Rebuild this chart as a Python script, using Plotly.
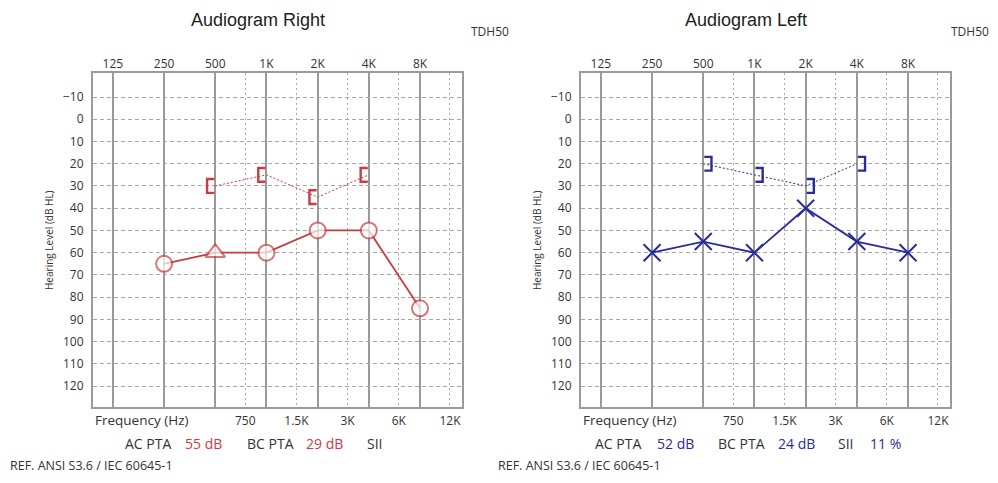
import math
import plotly.graph_objects as go

# axis ticks
OCT_FREQS = [125, 250, 500, 1000, 2000, 4000, 8000]
OCT_LABELS = ["125", "250", "500", "1K", "2K", "4K", "8K"]
MID_FREQS = [750, 1500, 3000, 6000, 12000]
MID_LABELS = ["750", "1.5K", "3K", "6K", "12K"]
DB_TICKS = list(range(-10, 121, 10))

# right ear
right_ac_freq = [250, 500, 1000, 2000, 4000, 8000]
right_ac_db = [65, 60, 60, 50, 50, 85]
right_ac_masked = [False, True, False, False, False, False]
right_bc_freq = [500, 1000, 2000, 4000]
right_bc_db = [30, 25, 35, 25]
right_summary = ["55 dB", "29 dB", ""]

# left ear
left_ac_freq = [250, 500, 1000, 2000, 4000, 8000]
left_ac_db = [60, 55, 60, 40, 55, 60]
left_bc_freq = [500, 1000, 2000, 4000]
left_bc_db = [20, 25, 30, 20]
left_summary = ["52 dB", "24 dB", "11 %"]

RED = "#cc3b3f"
BLUE = "#2b2b9c"
GRID = "#a8a8a8"
TXT = "#333333"
FONT = "Open Sans"

W, H = 998, 483
PAGE = 8  # body margin of the html page
X_RANGE = [math.log10(95.5), math.log10(14120)]
Y_RANGE = [129.4, -20.8]


def px(x):
    return (x - PAGE) / W


def py(y):
    return 1 - (y - PAGE) / H


def bracket(freqs, dbs, side):
    # side -1 -> "[" drawn left of the frequency line, +1 -> "]" to the right
    xs, ys = [], []
    for f, d in zip(freqs, dbs):
        near = f * 2 ** (side * 0.02)
        far = f * 2 ** (side * 0.16)
        xs += [near, far, far, near, None]
        ys += [d - 3.1, d - 3.1, d + 3.1, d + 3.1, None]
    return xs, ys


fig = go.Figure()

# ---- right ear (red) ----
fig.add_trace(go.Scatter(
    x=right_bc_freq, y=right_bc_db, mode="lines",
    line=dict(color=RED, width=1, dash="2px,2px"), xaxis="x", yaxis="y"))
bx, by = bracket(right_bc_freq, right_bc_db, -1)
fig.add_trace(go.Scatter(
    x=bx, y=by, mode="lines", line=dict(color=RED, width=2.4),
    xaxis="x", yaxis="y"))
fig.add_trace(go.Scatter(
    x=right_ac_freq, y=right_ac_db, mode="lines+markers",
    line=dict(color=RED, width=1.8),
    marker=dict(symbol=["triangle-up" if m else "circle" for m in right_ac_masked],
                size=[17 if m else 16 for m in right_ac_masked],
                color="white", line=dict(color=RED, width=2)),
    xaxis="x3", yaxis="y"))

# ---- left ear (blue) ----
fig.add_trace(go.Scatter(
    x=left_bc_freq, y=left_bc_db, mode="lines",
    line=dict(color=BLUE, width=1, dash="2px,2px"), xaxis="x2", yaxis="y2"))
bx, by = bracket(left_bc_freq, left_bc_db, 1)
fig.add_trace(go.Scatter(
    x=bx, y=by, mode="lines", line=dict(color=BLUE, width=2.4),
    xaxis="x2", yaxis="y2"))
fig.add_trace(go.Scatter(
    x=left_ac_freq, y=left_ac_db, mode="lines+markers",
    line=dict(color=BLUE, width=1.8),
    marker=dict(symbol="x-thin", size=17, line=dict(color=BLUE, width=2)),
    xaxis="x4", yaxis="y2"))


def bottom_x(dom):
    return dict(domain=dom, type="log", range=X_RANGE, tickmode="array",
                tickvals=MID_FREQS, ticktext=MID_LABELS, showgrid=True,
                gridcolor=GRID, gridwidth=1.3, griddash="2px,3px",
                showline=True, mirror=True, linecolor="#9a9a9a", linewidth=2,
                ticks="", ticklabelstandoff=2, zeroline=False,
                tickfont=dict(family=FONT, size=12, color=TXT))


def top_x(over):
    return dict(overlaying=over, side="top", type="log", range=X_RANGE,
                tickmode="array", tickvals=OCT_FREQS, ticktext=OCT_LABELS,
                showgrid=True, gridcolor="#9a9a9a", gridwidth=1.8,
                ticks="", ticklabelstandoff=2, zeroline=False,
                tickfont=dict(family=FONT, size=12, color=TXT))


def left_y(dom, anchor):
    return dict(domain=dom, anchor=anchor, range=Y_RANGE, tickmode="array",
                tickvals=DB_TICKS, showgrid=True, gridcolor=GRID,
                gridwidth=1.2, griddash="4px,3px", zeroline=False,
                showline=True, mirror=True, linecolor="#9a9a9a", linewidth=2,
                ticks="", ticklabelstandoff=5,
                tickfont=dict(family=FONT, size=12, color=TXT))


YDOM = [py(407), py(73)]

fig.update_layout(
    width=W, height=H,
    margin=dict(l=0, r=0, t=0, b=0),
    paper_bgcolor="white", plot_bgcolor="white",
    showlegend=False,
    xaxis=dict(bottom_x([px(93), px(462)]), anchor="y"),
    xaxis3=dict(top_x("x"), anchor="y"),
    yaxis=left_y(YDOM, "x"),
    xaxis2=dict(bottom_x([px(581), px(950)]), anchor="y2"),
    xaxis4=dict(top_x("x2"), anchor="y2"),
    yaxis2=left_y(YDOM, "x2"),
)

ann = []


def text(x, y, s, size=12, color=TXT, xanchor="left", family=FONT, angle=0,
         yanchor="middle"):
    ann.append(dict(x=px(x), y=min(py(y), 1), xref="paper", yref="paper",
                    text=s, showarrow=False, xanchor=xanchor, yanchor=yanchor,
                    textangle=angle,
                    font=dict(family=family, size=size, color=color)))


for off, title, summary, col in [(0, "Audiogram Right", right_summary, RED),
                                 (488, "Audiogram Left", left_summary, BLUE)]:
    text(258 + off, 7, title, size=18, color="#222", xanchor="center",
         family="Liberation Sans", yanchor="top")
    text(469 + off - (8 if off else 0), 32, "TDH50", size=12)
    text(93 + off, 420, "Frequency (Hz)", size=13.5)
    text(49 + off, 240, "Hearing Level (dB HL)", size=10, xanchor="center",
         angle=-90)
    text(8 + off, 465, "REF. ANSI S3.6 / IEC 60645-1", size=12.5)

# PTA lines
text(123, 443, "AC PTA", size=14)
text(183, 443, right_summary[0], size=14, color=RED)
text(245, 443, "BC PTA", size=14)
text(304, 443, right_summary[1], size=14, color=RED)
text(365, 443, "SII", size=14)
text(593, 443, "AC PTA", size=14)
text(655, 443, left_summary[0], size=14, color=BLUE)
text(716, 443, "BC PTA", size=14)
text(776, 443, left_summary[1], size=14, color=BLUE)
text(836, 443, "SII", size=14)
text(868, 443, left_summary[2], size=14, color=BLUE)

fig.update_layout(annotations=ann)
fig.write_html("out.html")
